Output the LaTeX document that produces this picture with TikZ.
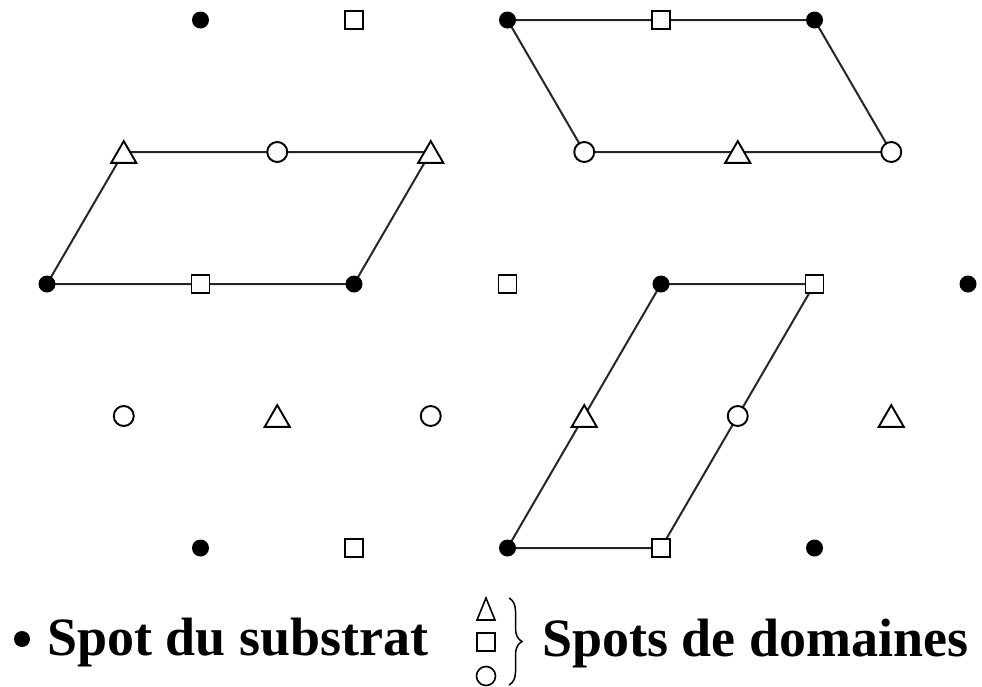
\documentclass[tikz,border=0pt]{standalone}
\usepackage{fontspec}
\setmainfont{Liberation Serif}
\usetikzlibrary{shapes.geometric,decorations.pathreplacing}
\begin{document}
\begin{tikzpicture}[x=1pt,y=-1pt,
  dotspot/.style={circle,fill=black,inner sep=0pt,minimum size=17pt},
  sqspot/.style={rectangle,draw=black,fill=white,line width=1.9pt,inner sep=0pt,minimum size=18pt},
  cirspot/.style={circle,draw=black,fill=white,line width=1.9pt,inner sep=0pt,minimum size=20pt},
  trispot/.style={regular polygon,regular polygon sides=3,draw=black,fill=white,line width=1.9pt,inner sep=0pt,minimum size=29pt,yshift=-3.6pt},
  link/.style={line width=2pt,black!85},
  legendtext/.style={font=\bfseries\fontsize{54}{60}\selectfont,anchor=base west,inner sep=0pt}]
\useasboundingbox (0,0) rectangle (982,686);
% lattice points
\foreach \c in {0,...,12}
  \foreach \r in {0,...,4}
    \coordinate (g\c x\r) at ({47+76.75*\c},{20+132*\r});
% unit cells (drawn first, spots cover them)
\draw[link] (g1x1) -- (g3x1) -- (g5x1) -- (g4x2) -- (g2x2) -- (g0x2) -- cycle;
\draw[link] (g6x0) -- (g8x0) -- (g10x0) -- (g11x1) -- (g9x1) -- (g7x1) -- cycle;
\draw[link] (g8x2) -- (g10x2) -- (g9x3) -- (g8x4) -- (g6x4) -- (g7x3) -- cycle;
% spots
\foreach \c/\r in {2/0,6/0,10/0,0/2,4/2,8/2,12/2,2/4,6/4,10/4}
  \node[dotspot] (p\c x\r) at (g\c x\r) {};
\foreach \c/\r in {4/0,8/0,2/2,6/2,10/2,4/4,8/4}
  \node[sqspot] (p\c x\r) at (g\c x\r) {};
\foreach \c/\r in {3/1,7/1,11/1,1/3,5/3,9/3}
  \node[cirspot] (p\c x\r) at (g\c x\r) {};
\foreach \c/\r in {1/1,5/1,9/1,3/3,7/3,11/3}
  \node[trispot] (p\c x\r) at (g\c x\r) {};
% legend
\node[dotspot,minimum size=16pt] (ldot) at (22,639) {};
\node[legendtext] (ltext1) at (47,655) {Spot du substrat};
\draw[line width=1.6pt,line join=miter] (477,620) -- (486,598) -- (495,620) -- cycle;
\node[sqspot,line width=1.6pt] (lsq) at (486,642) {};
\node[cirspot,line width=1.6pt,minimum size=19pt] (lcir) at (486,676) {};
\draw[line width=1.5pt,decorate,decoration={brace,amplitude=13pt}] (509,598) -- (509,685);
\node[legendtext] (ltext2) at (542,656) {Spots de domaines};
\end{tikzpicture}
\end{document}
